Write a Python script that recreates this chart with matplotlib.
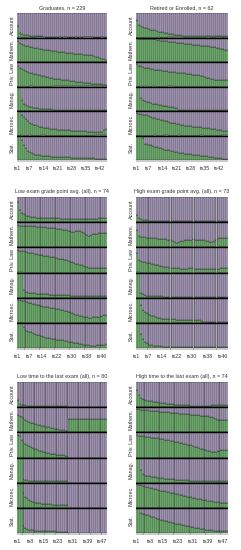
import matplotlib
matplotlib.use("Agg")
import matplotlib.pyplot as plt
import numpy as np

plt.rcParams["font.family"] = ["Liberation Sans", "DejaVu Sans"]

channels = ["Account", "Mathem.", "Priv. Law", "Manag.", "Microec.", "Stat."]
GREEN = "#7FC97F"
PURPLE = "#BEAED4"

# ---------------- Panel 1: Graduates ----------------
title1 = "Graduates, n = 229"
ticks1 = ["ts1", "ts7", "ts14", "ts21", "ts28", "ts35", "ts42"]
p1_account = [0.47,0.20,0.15,0.12,0.10,0.09,0.08,0.07,0.06,0.06,
              0.05,0.05,0.05,0.04,0.04,0.04,0.04,0.04,0.04,0.04,
              0.03,0.03,0.03,0.03,0.03,0.03,0.03,0.03,0.03,0.03,
              0.03,0.03,0.03,0.03,0.03,0.03,0.03,0.03,0.03,0.03,
              0.03,0.03,0.03,0.03,0.03]
p1_mathem = [0.85,0.78,0.74,0.70,0.67,0.65,0.63,0.61,0.59,0.57,
             0.56,0.54,0.53,0.51,0.50,0.49,0.47,0.46,0.45,0.43,
             0.42,0.41,0.40,0.39,0.38,0.37,0.36,0.35,0.34,0.33,
             0.34,0.32,0.31,0.30,0.29,0.28,0.30,0.27,0.24,0.22,
             0.20,0.17,0.14,0.11,0.09]
p1_privlaw = [0.82,0.76,0.71,0.66,0.62,0.59,0.57,0.55,0.53,0.51,
              0.48,0.46,0.43,0.41,0.38,0.37,0.35,0.34,0.32,0.31,
              0.30,0.29,0.28,0.27,0.26,0.25,0.24,0.23,0.22,0.20,
              0.19,0.18,0.17,0.16,0.15,0.14,0.13,0.12,0.12,0.11,
              0.10,0.10,0.09,0.08,0.08]
p1_manag = [1.00,1.00,0.45,0.30,0.24,0.20,0.17,0.15,0.13,0.12,
            0.11,0.10,0.09,0.09,0.08,0.08,0.07,0.07,0.06,0.06,
            0.05,0.05,0.05,0.05,0.05,0.05,0.05,0.05,0.05,0.05,
            0.04,0.04,0.04,0.04,0.04,0.04,0.04,0.04,0.04,0.04,
            0.04,0.04,0.04,0.04,0.04]
p1_microec = [1.00,1.00,0.82,0.75,0.67,0.60,0.53,0.48,0.44,0.41,
              0.38,0.36,0.34,0.32,0.30,0.29,0.28,0.27,0.26,0.25,
              0.24,0.23,0.23,0.22,0.22,0.21,0.21,0.20,0.20,0.19,
              0.19,0.18,0.18,0.17,0.17,0.16,0.16,0.15,0.15,0.14,
              0.14,0.15,0.16,0.22,0.28]
p1_stat = [1.00,1.00,0.80,0.62,0.48,0.38,0.31,0.27,0.24,0.22,
           0.20,0.19,0.18,0.17,0.16,0.15,0.15,0.14,0.14,0.13,
           0.13,0.12,0.12,0.12,0.11,0.11,0.11,0.10,0.10,0.10,
           0.09,0.09,0.09,0.08,0.08,0.08,0.07,0.07,0.07,0.06,
           0.06,0.06,0.05,0.05,0.05]

# ---------------- Panel 2: Retired or Enrolled ----------------
title2 = "Retired or Enrolled, n = 62"
ticks2 = ["ts1", "ts7", "ts14", "ts21", "ts28", "ts35", "ts42"]
p2_account = [0.73,0.53,0.46,0.41,0.39,0.38,0.34,0.32,0.31,0.30,
              0.26,0.24,0.22,0.21,0.20,0.18,0.16,0.15,0.13,0.12,
              0.11,0.10,0.09,0.08,0.08,0.07,0.07,0.06,0.06,0.06,
              0.05,0.05,0.05,0.05,0.05,0.05,0.05,0.05,0.05,0.05,
              0.05,0.05,0.05,0.05,0.05,0.05]
p2_mathem = [0.96,0.95,0.95,0.95,0.95,0.95,0.94,0.94,0.94,0.93,
             0.90,0.88,0.87,0.86,0.86,0.85,0.81,0.80,0.80,0.80,
             0.79,0.79,0.78,0.78,0.73,0.73,0.72,0.72,0.71,0.71,
             0.68,0.68,0.67,0.67,0.67,0.66,0.66,0.62,0.60,0.60,
             0.58,0.56,0.55,0.52,0.50,0.50]
p2_privlaw = [0.90,0.84,0.82,0.80,0.77,0.76,0.74,0.72,0.70,0.69,
              0.68,0.67,0.66,0.65,0.64,0.62,0.61,0.60,0.59,0.58,
              0.57,0.56,0.55,0.55,0.54,0.52,0.50,0.49,0.48,0.47,
              0.46,0.45,0.44,0.42,0.38,0.35,0.33,0.31,0.30,0.28,
              0.27,0.26,0.26,0.27,0.28,0.28]
p2_manag = [1.00,1.00,0.54,0.45,0.40,0.37,0.35,0.33,0.30,0.28,
            0.27,0.25,0.23,0.21,0.20,0.19,0.17,0.16,0.15,0.14,
            0.13,0.03,0.03,0.03,0.03,0.03,0.03,0.03,0.03,0.03,
            0.03,0.03,0.03,0.03,0.03,0.03,0.03,0.03,0.03,0.03,
            0.03,0.03,0.03,0.03,0.03,0.03]
p2_microec = [0.93,0.89,0.87,0.85,0.84,0.82,0.80,0.76,0.73,0.70,
              0.68,0.66,0.64,0.62,0.60,0.58,0.55,0.52,0.50,0.49,
              0.47,0.45,0.43,0.42,0.40,0.39,0.38,0.37,0.36,0.35,
              0.34,0.33,0.33,0.32,0.31,0.30,0.29,0.28,0.27,0.26,
              0.24,0.22,0.21,0.20,0.20,0.20]
p2_stat = [1.00,1.00,1.00,0.90,0.66,0.64,0.62,0.60,0.57,0.54,
           0.52,0.50,0.48,0.45,0.42,0.41,0.39,0.37,0.35,0.33,
           0.32,0.30,0.28,0.27,0.26,0.25,0.24,0.23,0.22,0.21,
           0.20,0.19,0.18,0.17,0.16,0.15,0.14,0.12,0.11,0.10,
           0.09,0.08,0.07,0.06,0.05,0.05]

# ---------------- Panel 3: Low exam grade point avg. ----------------
title3 = "Low exam grade point avg. (all), n = 74"
ticks3 = ["ts1", "ts7", "ts14", "ts22", "ts30", "ts38", "ts46"]
p3_account = [0.79,0.50,0.36,0.32,0.29,0.26,0.23,0.21,0.20,0.19,
              0.18,0.18,0.18,0.17,0.17,0.17,0.17,0.16,0.16,0.16,
              0.15,0.15,0.15,0.14,0.14,0.14,0.14,0.13,0.13,0.13,
              0.13,0.13,0.13,0.13,0.13,0.13,0.13,0.13,0.13,0.13,
              0.14,0.14,0.14,0.15,0.15,0.15,0.16,0.16]
p3_mathem = [0.87,0.86,0.85,0.85,0.85,0.84,0.84,0.84,0.83,0.83,
             0.82,0.82,0.81,0.80,0.79,0.79,0.78,0.78,0.77,0.76,
             0.75,0.74,0.73,0.71,0.70,0.69,0.68,0.66,0.63,0.61,
             0.62,0.63,0.64,0.64,0.60,0.56,0.52,0.48,0.44,0.50,
             0.52,0.53,0.54,0.55,0.56,0.57,0.57,0.58]
p3_privlaw = [0.90,0.87,0.86,0.84,0.82,0.81,0.79,0.77,0.76,0.74,
              0.73,0.71,0.70,0.68,0.67,0.66,0.64,0.63,0.61,0.60,
              0.58,0.57,0.55,0.54,0.52,0.50,0.48,0.45,0.42,0.40,
              0.37,0.35,0.32,0.30,0.28,0.26,0.23,0.21,0.19,0.18,
              0.18,0.17,0.17,0.17,0.18,0.18,0.19,0.19]
p3_manag = [1.00,1.00,1.00,0.31,0.24,0.21,0.20,0.19,0.18,0.17,
            0.16,0.16,0.15,0.15,0.14,0.13,0.13,0.12,0.12,0.11,
            0.11,0.11,0.10,0.10,0.10,0.09,0.09,0.09,0.08,0.08,
            0.08,0.08,0.07,0.07,0.07,0.07,0.07,0.06,0.06,0.06,
            0.06,0.06,0.05,0.05,0.05,0.05,0.05,0.05]
p3_microec = [0.92,0.90,0.88,0.87,0.85,0.82,0.80,0.77,0.76,0.74,
              0.72,0.70,0.68,0.66,0.64,0.63,0.61,0.60,0.58,0.57,
              0.56,0.54,0.53,0.52,0.50,0.48,0.46,0.44,0.42,0.39,
              0.36,0.33,0.30,0.28,0.26,0.25,0.23,0.22,0.21,0.21,
              0.22,0.23,0.24,0.25,0.26,0.27,0.30,0.32]
p3_stat = [1.00,1.00,1.00,0.82,0.72,0.68,0.65,0.62,0.58,0.55,
           0.53,0.50,0.48,0.46,0.43,0.41,0.40,0.38,0.37,0.35,
           0.34,0.33,0.32,0.31,0.30,0.28,0.27,0.25,0.24,0.22,
           0.21,0.19,0.18,0.17,0.15,0.13,0.12,0.10,0.10,0.09,
           0.09,0.09,0.10,0.10,0.11,0.12,0.13,0.14]

# ---------------- Panel 4: High exam grade point avg. ----------------
title4 = "High exam grade point avg. (all), n = 73"
ticks4 = ["ts1", "ts7", "ts14", "ts22", "ts30", "ts38", "ts46"]
p4_account = [0.30,0.17,0.12,0.10,0.08,0.07,0.06,0.05,0.05,0.05,
              0.05,0.05,0.05,0.05,0.05,0.04,0.04,0.04,0.04,0.04,
              0.04,0.04,0.04,0.04,0.04,0.04,0.04,0.04,0.04,0.04,
              0.04,0.04,0.04,0.04,0.04,0.04,0.04,0.04,0.04,0.04,
              0.04,0.04,0.04,0.04,0.04,0.04,0.04,0.04]
p4_mathem = [0.70,0.45,0.43,0.42,0.40,0.39,0.39,0.38,0.38,0.37,
             0.36,0.35,0.34,0.33,0.32,0.32,0.31,0.30,0.28,0.26,
             0.22,0.19,0.22,0.25,0.27,0.28,0.29,0.30,0.31,0.32,
             0.32,0.31,0.31,0.30,0.30,0.29,0.27,0.24,0.20,0.22,
             0.26,0.30,0.33,0.36,0.36,0.37,0.37,0.37]
p4_privlaw = [0.77,0.50,0.45,0.42,0.40,0.39,0.38,0.37,0.35,0.33,
              0.31,0.29,0.27,0.25,0.22,0.21,0.20,0.19,0.18,0.17,
              0.17,0.16,0.16,0.15,0.15,0.15,0.15,0.16,0.16,0.16,
              0.15,0.15,0.15,0.14,0.14,0.14,0.13,0.13,0.12,0.12,
              0.13,0.14,0.15,0.15,0.16,0.17,0.17,0.18]
p4_manag = [1.00,1.00,0.20,0.14,0.10,0.08,0.08,0.07,0.07,0.06,
            0.06,0.05,0.05,0.05,0.04,0.03,0.03,0.03,0.03,0.03,
            0.03,0.03,0.03,0.03,0.03,0.03,0.03,0.03,0.03,0.03,
            0.03,0.03,0.03,0.03,0.03,0.03,0.03,0.03,0.03,0.03,
            0.03,0.03,0.03,0.03,0.03,0.03,0.03,0.03]
p4_microec = [1.00,1.00,0.70,0.52,0.45,0.40,0.36,0.33,0.29,0.26,
              0.23,0.21,0.19,0.17,0.16,0.16,0.15,0.15,0.14,0.14,
              0.14,0.13,0.13,0.13,0.12,0.12,0.12,0.12,0.11,0.11,
              0.11,0.10,0.10,0.10,0.09,0.02,0.02,0.02,0.02,0.02,
              0.02,0.02,0.02,0.02,0.02,0.02,0.02,0.02]
p4_stat = [1.00,1.00,0.55,0.36,0.25,0.19,0.15,0.12,0.10,0.09,
           0.08,0.07,0.06,0.06,0.05,0.05,0.05,0.04,0.04,0.04,
           0.04,0.04,0.03,0.03,0.03,0.02,0.02,0.02,0.02,0.02,
           0.02,0.02,0.02,0.02,0.02,0.02,0.02,0.02,0.02,0.02,
           0.02,0.02,0.02,0.02,0.02,0.02,0.02,0.02]

# ---------------- Panel 5: Low time to the last exam ----------------
title5 = "Low time to the last exam (all), n = 80"
ticks5 = ["ts1", "ts8", "ts15", "ts23", "ts31", "ts39", "ts47"]
p5_account = [0.29,0.14,0.10,0.08,0.07,0.06,0.05,0.05,0.05,0.05,
              0.05,0.05,0.04,0.04,0.04,0.04,0.04,0.04,0.04,0.04,
              0.03,0.03,0.03,0.03,0.03,0.03,0.03,0.03,0.00,0.00,
              0.00,0.00,0.00,0.00,0.00,0.00,0.00,0.00,0.00,0.00,
              0.00,0.00,0.00,0.00,0.00,0.00,0.00,0.00,0.00]
p5_mathem = [0.70,0.65,0.60,0.55,0.50,0.46,0.42,0.38,0.36,0.34,
             0.32,0.30,0.28,0.27,0.25,0.23,0.22,0.20,0.18,0.17,
             0.15,0.14,0.12,0.11,0.10,0.08,0.06,0.04,0.53,0.53,
             0.53,0.53,0.53,0.53,0.53,0.53,0.53,0.53,0.53,0.53,
             0.53,0.53,0.53,0.53,0.53,0.53,0.53,0.53,0.53]
p5_privlaw = [0.90,0.85,0.70,0.62,0.55,0.48,0.44,0.40,0.37,0.35,
              0.32,0.30,0.27,0.25,0.22,0.20,0.18,0.17,0.15,0.14,
              0.12,0.11,0.10,0.09,0.08,0.08,0.07,0.07,0.00,0.00,
              0.00,0.00,0.00,0.00,0.00,0.00,0.00,0.00,0.00,0.00,
              0.00,0.00,0.00,0.00,0.00,0.00,0.00,0.00,0.00]
p5_manag = [1.00,1.00,1.00,0.13,0.10,0.09,0.08,0.08,0.07,0.07,
            0.07,0.06,0.06,0.06,0.06,0.06,0.06,0.06,0.06,0.06,
            0.06,0.06,0.06,0.06,0.06,0.06,0.06,0.06,0.00,0.00,
            0.00,0.00,0.00,0.00,0.00,0.00,0.00,0.00,0.00,0.00,
            0.00,0.00,0.00,0.00,0.00,0.00,0.00,0.00,0.00]
p5_microec = [1.00,1.00,1.00,0.60,0.45,0.38,0.30,0.27,0.24,0.22,
              0.20,0.19,0.18,0.17,0.16,0.15,0.15,0.14,0.14,0.13,
              0.13,0.12,0.12,0.12,0.11,0.11,0.11,0.11,0.00,0.00,
              0.00,0.00,0.00,0.00,0.00,0.00,0.00,0.00,0.00,0.00,
              0.00,0.00,0.00,0.00,0.00,0.00,0.00,0.00,0.00]
p5_stat = [1.00,1.00,1.00,0.28,0.20,0.16,0.13,0.11,0.10,0.09,
           0.09,0.08,0.08,0.07,0.07,0.07,0.06,0.06,0.06,0.06,
           0.06,0.05,0.05,0.05,0.05,0.05,0.05,0.05,0.00,0.00,
           0.00,0.00,0.00,0.00,0.00,0.00,0.00,0.00,0.00,0.00,
           0.00,0.00,0.00,0.00,0.00,0.00,0.00,0.00,0.00]

# ---------------- Panel 6: High time to the last exam ----------------
title6 = "High time to the last exam (all), n = 74"
ticks6 = ["ts1", "ts8", "ts15", "ts23", "ts31", "ts39", "ts47"]
p6_account = [0.68,0.48,0.36,0.32,0.29,0.27,0.26,0.25,0.23,0.22,
              0.21,0.19,0.18,0.17,0.16,0.15,0.14,0.13,0.12,0.11,
              0.10,0.10,0.09,0.09,0.08,0.08,0.07,0.07,0.07,0.06,
              0.06,0.06,0.06,0.06,0.06,0.06,0.06,0.06,0.06,0.06,
              0.07,0.07,0.07,0.08,0.08,0.08,0.09,0.09,0.09]
p6_mathem = [0.92,0.91,0.90,0.89,0.88,0.88,0.87,0.86,0.85,0.84,
             0.84,0.83,0.82,0.82,0.81,0.80,0.79,0.79,0.78,0.77,
             0.76,0.75,0.75,0.74,0.73,0.72,0.72,0.71,0.71,0.70,
             0.69,0.68,0.68,0.67,0.66,0.65,0.64,0.63,0.63,0.62,
             0.59,0.55,0.52,0.50,0.50,0.50,0.50,0.50,0.50]
p6_privlaw = [0.90,0.87,0.85,0.85,0.84,0.83,0.81,0.80,0.79,0.78,
              0.77,0.76,0.75,0.74,0.72,0.71,0.70,0.68,0.67,0.65,
              0.63,0.62,0.60,0.58,0.56,0.55,0.53,0.51,0.50,0.48,
              0.45,0.42,0.40,0.37,0.35,0.33,0.31,0.29,0.27,0.25,
              0.22,0.20,0.22,0.24,0.26,0.28,0.28,0.28,0.28]
p6_manag = [1.00,1.00,0.52,0.35,0.30,0.28,0.27,0.25,0.24,0.22,
            0.21,0.20,0.19,0.18,0.17,0.16,0.15,0.15,0.14,0.13,
            0.13,0.12,0.11,0.11,0.10,0.10,0.09,0.09,0.08,0.08,
            0.08,0.08,0.08,0.07,0.07,0.07,0.07,0.07,0.07,0.07,
            0.07,0.07,0.07,0.07,0.07,0.07,0.07,0.07,0.07]
p6_microec = [0.93,0.91,0.89,0.88,0.86,0.84,0.82,0.80,0.78,0.75,
              0.73,0.71,0.70,0.68,0.66,0.65,0.63,0.62,0.60,0.58,
              0.57,0.55,0.53,0.52,0.50,0.48,0.47,0.45,0.44,0.42,
              0.40,0.39,0.37,0.36,0.34,0.33,0.31,0.30,0.28,0.27,
              0.26,0.25,0.24,0.23,0.22,0.21,0.21,0.20,0.20]
p6_stat = [1.00,1.00,0.80,0.77,0.75,0.73,0.70,0.68,0.65,0.62,
           0.60,0.57,0.55,0.52,0.50,0.48,0.46,0.44,0.42,0.40,
           0.38,0.37,0.35,0.34,0.32,0.30,0.29,0.27,0.26,0.24,
           0.22,0.21,0.19,0.18,0.16,0.15,0.14,0.12,0.11,0.10,
           0.10,0.09,0.09,0.08,0.08,0.08,0.08,0.08,0.08]

panels = [
    (title1, ticks1, [p1_account, p1_mathem, p1_privlaw, p1_manag, p1_microec, p1_stat]),
    (title2, ticks2, [p2_account, p2_mathem, p2_privlaw, p2_manag, p2_microec, p2_stat]),
    (title3, ticks3, [p3_account, p3_mathem, p3_privlaw, p3_manag, p3_microec, p3_stat]),
    (title4, ticks4, [p4_account, p4_mathem, p4_privlaw, p4_manag, p4_microec, p4_stat]),
    (title5, ticks5, [p5_account, p5_mathem, p5_privlaw, p5_manag, p5_microec, p5_stat]),
    (title6, ticks6, [p6_account, p6_mathem, p6_privlaw, p6_manag, p6_microec, p6_stat]),
]

W, H = 241, 550
fig = plt.figure(figsize=(W / 100, H / 100), dpi=100)
fig.patch.set_facecolor("white")

col_x = [(17, 107), (136, 228)]
row_y = [(13, 160), (197, 348), (382, 533)]

FS = 3.9

for i, (title, ticks, data) in enumerate(panels):
    r, c = divmod(i, 2)
    x0, x1 = col_x[c]
    y0, y1 = row_y[r]
    ax = fig.add_axes([x0 / W, 1 - y1 / H, (x1 - x0) / W, (y1 - y0) / H])
    n = len(data[0])
    x = np.arange(n)
    for k, g in enumerate(data):
        g = np.array(g)
        base = 5 - k
        ax.bar(x, g, bottom=base, width=1.0, align="edge", color=GREEN,
               edgecolor="#1a1a1a", linewidth=0.28)
        ax.bar(x, 1 - g, bottom=base + g, width=1.0, align="edge", color=PURPLE,
               edgecolor="#1a1a1a", linewidth=0.28)
    for b in range(1, 6):
        ax.axhline(b, color="black", lw=1.0)
    ax.set_xlim(0, n)
    ax.set_ylim(0, 6)
    for s in ax.spines.values():
        s.set_visible(False)
    ax.set_yticks([5.5 - k for k in range(6)])
    ax.set_yticklabels(channels, rotation=90, va="center", fontsize=FS, color="#333333")
    ax.tick_params(axis="y", length=0, pad=1.5)
    tick_pos = [int(t[2:]) - 0.5 for t in ticks]
    ax.set_xticks(tick_pos)
    ax.set_xticklabels(ticks, fontsize=FS, color="#333333")
    ax.set_xticks(x + 0.5, minor=True)
    ax.tick_params(axis="x", which="both", length=1.5, width=0.3, pad=2.5)
    ax.set_title(title, fontsize=FS, pad=3, color="#333333")

fig.savefig("out.png", dpi=100)
